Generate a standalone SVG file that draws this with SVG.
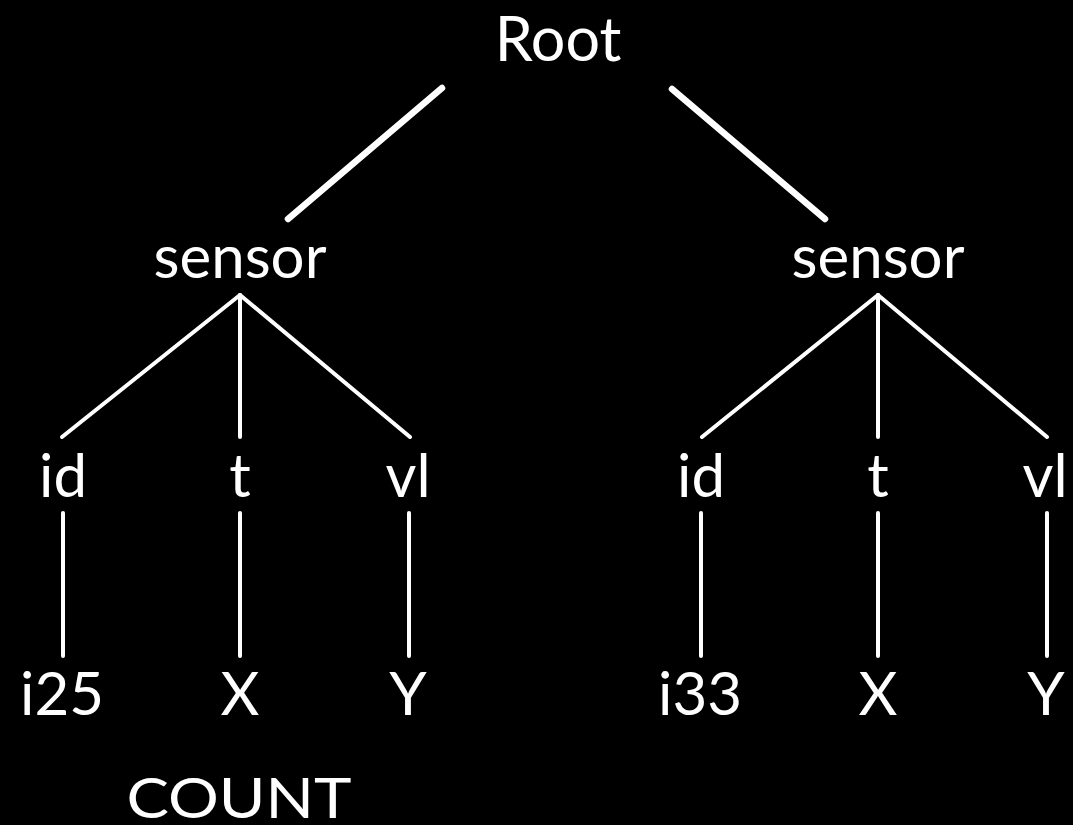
<svg xmlns="http://www.w3.org/2000/svg" width="1073" height="825" viewBox="0 0 1073 825">
  <style>
    .lbl { font-family: Lato, "Open Sans", "DejaVu Sans", sans-serif; fill: #ffffff; text-anchor: middle; }
    .big { font-size: 61px; }
    .mid { font-size: 60px; }
    .cnt { font-size: 57px; }
    .edge { stroke: #ffffff; stroke-linecap: round; fill: none; }
    .thick { stroke-width: 6.5; }
    .thin { stroke-width: 4; }
  </style>
  <rect x="0" y="0" width="1073" height="825" fill="#000000"/>

  <g id="connectors">
    <!-- root to the two sensors -->
    <line class="edge thick" x1="442" y1="88" x2="288" y2="219"/>
    <line class="edge thick" x1="672" y1="89" x2="825" y2="219"/>

    <!-- sensor to fields -->
    <line class="edge thin" x1="240" y1="295" x2="62" y2="437"/>
    <line class="edge thin" x1="240" y1="295" x2="240" y2="437"/>
    <line class="edge thin" x1="240" y1="295" x2="410" y2="437"/>
    <line class="edge thin" x1="878" y1="295" x2="702" y2="437"/>
    <line class="edge thin" x1="878" y1="295" x2="878" y2="437"/>
    <line class="edge thin" x1="878" y1="295" x2="1047" y2="437"/>

    <!-- fields to values -->
    <line class="edge thin" x1="63" y1="513" x2="63" y2="656"/>
    <line class="edge thin" x1="240" y1="513" x2="240" y2="656"/>
    <line class="edge thin" x1="409" y1="513" x2="409" y2="656"/>
    <line class="edge thin" x1="701" y1="513" x2="701" y2="656"/>
    <line class="edge thin" x1="878" y1="513" x2="878" y2="656"/>
    <line class="edge thin" x1="1047" y1="513" x2="1047" y2="656"/>
  </g>

  <g id="root"><text class="lbl big" x="558" y="61">Root</text></g>

  <g id="sensor-left"><text class="lbl mid" x="240" y="278">sensor</text></g>
  <g id="sensor-right"><text class="lbl mid" x="878" y="278">sensor</text></g>

  <g id="id-left"><text class="lbl mid" x="63" y="497">id</text></g>
  <g id="t-left"><text class="lbl mid" x="240" y="497">t</text></g>
  <g id="vl-left"><text class="lbl mid" x="408" y="497">vl</text></g>
  <g id="id-right"><text class="lbl mid" x="701" y="497">id</text></g>
  <g id="t-right"><text class="lbl mid" x="878" y="497">t</text></g>
  <g id="vl-right"><text class="lbl mid" x="1045" y="497">vl</text></g>

  <g id="i25"><text class="lbl mid" x="62" y="715">i25</text></g>
  <g id="x-left"><text class="lbl mid" x="240" y="715">X</text></g>
  <g id="y-left"><text class="lbl mid" x="408" y="715">Y</text></g>
  <g id="i33"><text class="lbl mid" x="700" y="715">i33</text></g>
  <g id="x-right"><text class="lbl mid" x="878" y="715">X</text></g>
  <g id="y-right"><text class="lbl mid" x="1046" y="715">Y</text></g>

  <g id="count"><text class="lbl cnt" x="239" y="818" textLength="225" lengthAdjust="spacingAndGlyphs">COUNT</text></g>
</svg>
